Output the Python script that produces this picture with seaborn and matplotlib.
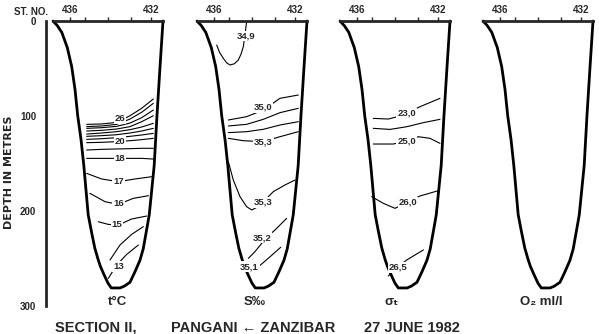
import matplotlib
matplotlib.use('Agg')
import matplotlib.pyplot as plt
import seaborn as sns
import pandas as pd

# ---------------- data ----------------
STATIONS = ['436', '435', '434', '433', '432']
STATION_POS = [0.155, 0.29, 0.50, 0.71, 0.895]
STATION_LABELS = ['436', '', '', '', '432']

DEPTH_TICKS = [0, 50, 100, 150, 200, 250, 300]
DEPTH_LABELS = ['0', '', '100', '', '200', '', '300']

# bottom profile of the section (relative distance, depth m)
BOTTOM_X = [0.0, 0.04, 0.08, 0.13, 0.17, 0.20, 0.225, 0.255, 0.28, 0.32, 0.35, 0.38,
            0.41, 0.43, 0.46, 0.50, 0.53, 0.61, 0.65, 0.70, 0.745, 0.79, 0.82, 0.86,
            0.875, 0.92, 0.945, 0.972, 1.0]
BOTTOM_DEPTH = [0, 5, 12, 28, 48, 72, 100, 125, 152, 204, 222, 239,
                251, 258, 266, 276, 281, 281, 279, 275, 264, 252, 240, 214,
                204, 152, 100, 50, 0]

# temperature isotherms (deg C)
TEMP_LEVELS = [27, 26, 25, 24, 23, 22, 21, 20, 19, 18, 17, 16, 15, 14, 13]
_TX = [0.306, 0.442, 0.579, 0.700, 0.806, 0.912]
TEMP_X = [_TX] * 10 + [
    [0.306, 0.442, 0.594, 0.745, 0.897],
    [0.336, 0.473, 0.594, 0.730, 0.867],
    [0.412, 0.503, 0.594, 0.715, 0.852],
    [0.518, 0.609, 0.715, 0.821],
    [0.503, 0.579, 0.670, 0.776],
]
TEMP_DEPTH = [
    [108.8, 108.4, 106.7, 99.7, 91.9, 82.1],
    [111.2, 110.5, 108.8, 103.2, 96.1, 86.7],
    [113.0, 112.3, 110.9, 107.4, 101.8, 93.7],
    [115.8, 115.1, 113.7, 111.2, 106.0, 99.7],
    [119.0, 117.9, 116.5, 114.4, 111.6, 107.7],
    [121.4, 120.7, 119.7, 117.9, 115.8, 113.0],
    [124.6, 123.9, 122.8, 121.4, 120.0, 118.3],
    [128.1, 127.7, 127.0, 126.0, 124.9, 123.5],
    [135.8, 135.1, 134.7, 134.4, 134.0, 134.0],
    [144.6, 144.6, 144.6, 144.6, 144.6, 145.3],
    [160.4, 166.3, 169.1, 166.3, 163.9],
    [181.4, 190.2, 193.0, 186.7, 183.9],
    [211.3, 214.1, 214.8, 208.4, 205.3],
    [251.6, 235.8, 224.6, 216.5],
    [270.9, 256.9, 245.7, 235.8],
]
TEMP_LABEL_TEXT = ['26', '20', '18', '17', '16', '15', '13']
TEMP_LABEL_X = [0.61, 0.61, 0.61, 0.594, 0.594, 0.58, 0.594]
TEMP_LABEL_DEPTH = [103, 127, 144.6, 169, 192, 214, 258.6]

# salinity isohalines (per mille)
SAL_LEVELS = [34.9, 35.0, 35.1, 35.2, 35.3, 35.3, 35.2, 35.1]
SAL_X = [
    [0.179, 0.205, 0.239, 0.27, 0.30, 0.34, 0.375, 0.40, 0.421, 0.436, 0.452],
    [0.285, 0.451, 0.603, 0.754, 0.921],
    [0.285, 0.451, 0.603, 0.754, 0.921],
    [0.285, 0.451, 0.603, 0.754, 0.921],
    [0.285, 0.421, 0.603, 0.754, 0.921],
    [0.285, 0.33, 0.391, 0.451, 0.497, 0.558, 0.694, 0.80, 0.891],
    [0.467, 0.527, 0.633, 0.709, 0.815],
    [0.542, 0.648, 0.761],
]
SAL_DEPTH = [
    [25.3, 33, 39.3, 44, 46.3, 45, 41.1, 35, 27, 14.7, 0],
    [104.2, 100.7, 93.7, 81.4, 77.9],
    [110.5, 108.8, 103.5, 96.5, 91.9],
    [117.5, 116.5, 114.0, 109.5, 106.0],
    [123.5, 126.0, 127.0, 121.8, 116.5],
    [148.1, 167.4, 184.9, 195.4, 198.9, 195.4, 179.6, 172.6, 167.4],
    [249.8, 242.8, 227.7, 220.0, 207.7],
    [260.3, 249.8, 238.2],
]
SAL_LABEL_TEXT = ['34,9', '35,0', '35,3', '35,3', '35,2', '35,1']
SAL_LABEL_X = [0.445, 0.60, 0.603, 0.603, 0.588, 0.476]
SAL_LABEL_DEPTH = [15.8, 91, 127, 191, 228, 258.6]

# sigma-t isopycnals
SIG_LEVELS = [23.0, 24.0, 25.0, 26.0, 26.5]
SIG_X = [
    [0.303, 0.439, 0.50, 0.606, 0.727, 0.909],
    [0.303, 0.455, 0.606, 0.758, 0.909],
    [0.303, 0.485, 0.606, 0.712, 0.818, 0.909],
    [0.288, 0.394, 0.50, 0.621, 0.727, 0.894],
    [0.439, 0.515, 0.606, 0.758],
]
SIG_DEPTH = [
    [102.5, 103.2, 101.4, 97.2, 90.2, 81.4],
    [113.0, 114.1, 111.3, 107.0, 103.5],
    [129.5, 129.5, 126.0, 121.8, 123.5, 128.8],
    [184.9, 191.9, 197.2, 190.2, 184.2, 178.6],
    [268.4, 260.3, 251.6, 241.0],
]
SIG_LABEL_TEXT = ['23,0', '25,0', '26,0', '26,5']
SIG_LABEL_X = [0.606, 0.606, 0.621, 0.53]
SIG_LABEL_DEPTH = [97.2, 126, 190.9, 259.3]

PANEL_TITLES = ['t°C', 'S‰', 'σₜ', 'O₂ ml/l']

# ---------------- style ----------------
sns.set_style('white')
plt.rcParams['font.family'] = ['Liberation Sans', 'DejaVu Sans']
plt.rcParams['font.weight'] = 'bold'

W, H = 599, 334
fig = plt.figure(figsize=(W / 100, H / 100), dpi=100)

panel_left_px = [53, 197, 340, 483]
panel_w_px = 110
top_px, bot_px = 21, 306


def to_df(xs_list, ds_list, levels):
    rows = []
    for i, (xs, ds) in enumerate(zip(xs_list, ds_list)):
        for k, (x, d) in enumerate(zip(xs, ds)):
            rows.append({'line': i, 'level': levels[i], 'order': k, 'x': x, 'depth': d})
    return pd.DataFrame(rows)


panels = [
    (to_df(TEMP_X, TEMP_DEPTH, TEMP_LEVELS), TEMP_LABEL_TEXT, TEMP_LABEL_X, TEMP_LABEL_DEPTH),
    (to_df(SAL_X, SAL_DEPTH, SAL_LEVELS), SAL_LABEL_TEXT, SAL_LABEL_X, SAL_LABEL_DEPTH),
    (to_df(SIG_X, SIG_DEPTH, SIG_LEVELS), SIG_LABEL_TEXT, SIG_LABEL_X, SIG_LABEL_DEPTH),
    (None, [], [], []),
]

for i, (df, ltxt, lx, ld) in enumerate(panels):
    ax = fig.add_axes([panel_left_px[i] / W, (H - bot_px) / H,
                       panel_w_px / W, (bot_px - top_px) / H])
    ax.set_facecolor('none')
    if df is not None:
        sns.lineplot(data=df, x='x', y='depth', units='line', estimator=None,
                     sort=False, color='black', lw=0.8, ax=ax, legend=False)
    ax.plot(BOTTOM_X, BOTTOM_DEPTH, color='black', lw=2.0, clip_on=False,
            solid_capstyle='round', solid_joinstyle='round')
    for t, x, d in zip(ltxt, lx, ld):
        ax.text(x, d, t, ha='center', va='center', fontsize=6.8, fontweight='bold',
                bbox=dict(facecolor='white', edgecolor='none', pad=0.6), zorder=5)
    ax.set_xlim(0, 1)
    ax.set_ylim(300, 0)
    ax.set_xlabel('')
    ax.set_ylabel('')
    for s in ['right', 'bottom']:
        ax.spines[s].set_visible(False)
    ax.spines['top'].set_linewidth(2.0)
    ax.xaxis.set_ticks_position('top')
    ax.set_xticks(STATION_POS)
    ax.set_xticklabels(STATION_LABELS)
    ax.tick_params(axis='x', direction='out', length=3, width=1, pad=1.5,
                   labelsize=7, top=True, bottom=False, labeltop=True, labelbottom=False)
    if i == 0:
        ax.spines['left'].set_position(('outward', 5))
        ax.spines['left'].set_linewidth(2.0)
        ax.set_yticks(DEPTH_TICKS)
        ax.set_yticklabels(DEPTH_LABELS)
        ax.tick_params(axis='y', direction='in', length=5, width=1.5, pad=7,
                       labelsize=7)
    else:
        ax.spines['left'].set_visible(False)
        ax.set_yticks([])
    ax.grid(False)

# panel titles
title_x = [117, 255, 392, 541]
for t, x in zip(PANEL_TITLES, title_x):
    fig.text(x / W, 1 - 302 / H, t, ha='center', va='center', fontsize=9.5,
             fontweight='bold')

fig.text(31 / W, 1 - 12 / H, 'ST. NO.', ha='center', va='center', fontsize=7,
         fontweight='bold')
fig.text(9 / W, 1 - 172 / H, 'DEPTH IN METRES', rotation=90, ha='center',
         va='center', fontsize=8, fontweight='bold', family='DejaVu Sans')

fig.text(95.5 / W, 1 - 332 / H, 'SECTION II,', ha='center', va='baseline',
         fontsize=10.5, fontweight='bold')
fig.text(253.5 / W, 1 - 332 / H, 'PANGANI ← ZANZIBAR', ha='center', va='baseline',
         fontsize=10.5, fontweight='bold')
fig.text(411.5 / W, 1 - 332 / H, '27 JUNE 1982', ha='center', va='baseline',
         fontsize=10.5, fontweight='bold')

fig.savefig('out.png', dpi=100, facecolor='white')
